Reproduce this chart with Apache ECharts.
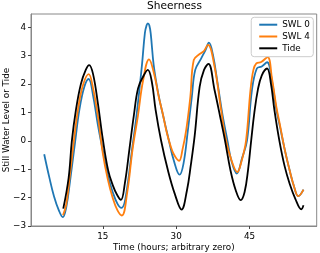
<!DOCTYPE html>
<html><head><meta charset="utf-8">
<script src="https://cdn.jsdelivr.net/npm/echarts@6/dist/echarts.min.js"></script>
<style>html,body{margin:0;padding:0;background:#fff}#c{width:320px;height:253px}</style>
</head><body><div id="c"></div>
<script>
const chartTitle = 'Sheerness';
const seriesNames = ['SWL 0', 'SWL 4', 'Tide'];
const xTicks = [15, 30, 45];
const yTicks = [-3, -2, -1, 0, 1, 2, 3, 4];

const swl0Hours = [3, 4, 5, 6, 6.8, 7.5, 8.3, 9.35, 10.2, 11.2, 12.1, 13, 14, 15, 16, 17, 18, 18.8, 19.6, 21.0, 21.9, 23.0, 23.6, 23.95, 24.2, 24.5, 24.8, 25.4, 26.3, 27.3, 28.5, 29.5, 30.7, 31.5, 32.4, 33.2, 33.9, 35.1, 36.0, 36.7, 37.5, 38.5, 39.5, 40.5, 41.3, 42.4, 43.5, 44.5, 45.5, 46.5, 47.5, 48.6, 49.6, 50.5, 51.3, 52.2, 53.2, 54.1, 55.0, 56.05];
const swl0Values = [-0.47, -1.25, -1.95, -2.45, -2.69, -2.35, -1.4, 0.0, 1.1, 1.9, 2.18, 1.6, 0.55, -0.35, -1.2, -1.8, -2.22, -2.36, -2.05, -0.27, 0.91, 2.67, 3.8, 4.07, 4.14, 4.07, 3.77, 2.67, 1.7, 0.91, 0.02, -0.68, -1.19, -0.8, 0.38, 1.55, 2.5, 2.9, 3.2, 3.46, 3.05, 2.0, 0.9, 0.0, -0.7, -1.15, -0.6, 0.02, 1.79, 2.55, 2.62, 2.77, 2.1, 1.1, 0.45, -0.3, -1.03, -1.6, -1.95, -1.72];

const swl4Hours = [6.85, 7.5, 8.3, 9.07, 10, 11, 12.1, 13, 14.1, 15, 16, 17, 18, 18.9, 20, 21.1, 22.2, 23.2, 24.45, 25.5, 26.5, 27.2, 28.0, 28.8, 29.6, 30.6, 31.3, 32.05, 32.9, 33.6, 34.8, 35.6, 36.5, 37.85, 39.2, 40.2, 41.3, 42.5, 43.4, 44.3, 45.2, 45.8, 46.4, 47.4, 48.7, 49.6, 50.5, 51.3, 52.2, 53.2, 54.1, 55.0, 56.05];
const swl4Values = [-2.62, -2.25, -1.15, 0.0, 1.2, 2.0, 2.35, 1.85, 0.73, -0.45, -1.35, -2.0, -2.45, -2.63, -1.8, -0.27, 0.91, 2.1, 2.87, 2.35, 1.5, 1.0, 0.35, -0.15, -0.5, -0.7, -0.3, 0.38, 1.55, 2.85, 3.06, 3.15, 3.38, 2.61, 1.08, 0.02, -0.68, -1.1, -0.7, 0.02, 1.79, 2.5, 2.73, 2.78, 2.95, 2.2, 1.2, 0.5, -0.3, -1.03, -1.6, -1.95, -1.72];

const tideHours = [6.9, 8, 8.66, 9.5, 10.5, 11.5, 12.2, 13, 14, 15, 16.1, 17, 17.9, 18.7, 19.5, 20.45, 21.35, 22.2, 23.2, 24.2, 25.0, 25.8, 26.9, 28.3, 29.7, 31.1, 32.2, 33.0, 33.8, 34.8, 35.7, 36.6, 37.85, 39.0, 40.0, 41.1, 42.2, 43.2, 44.0, 44.7, 45.35, 46.0, 46.7, 47.5, 48.6, 49.4, 50.1, 51.1, 52.2, 53.2, 54.4, 55.6, 56.05];
const tideValues = [-2.39, -1.3, 0.0, 1.1, 2.0, 2.5, 2.67, 2.35, 1.3, 0.05, -1.05, -1.55, -1.9, -2.08, -1.5, -0.27, 0.91, 1.85, 2.25, 2.5, 2.1, 1.08, 0.02, -1.03, -1.86, -2.42, -1.75, -0.85, 0.2, 1.9, 2.5, 2.71, 1.79, 0.85, 0.0, -1.03, -1.75, -2.09, -1.8, -1.03, 0.02, 1.0, 1.79, 2.3, 2.55, 2.0, 1.08, 0.02, -0.9, -1.5, -2.05, -2.41, -2.27];

const colors = ['#1f77b4', '#ff7f0e', '#000000'];
const pair = (h, v) => h.map((t, i) => [t, v[i]]);
const fmt = v => String(v).replace('-', '\u2212');
const font = 'DejaVu Sans';

const chart = echarts.init(document.getElementById('c'), null, {renderer: 'canvas'});
const mk = (name, h, v, c) => ({
  name, type: 'line', data: pair(h, v), showSymbol: false, smooth: 0.4,
  lineStyle: {color: c, width: 1.8}, itemStyle: {color: c}
});
chart.setOption({
  animation: false,
  title: {text: chartTitle, left: 147, top: 0.5, padding: 0,
    textStyle: {fontFamily: font, fontSize: 10.6, fontWeight: 'normal', color: '#000'}},
  legend: {orient: 'vertical', right: 6.7, top: 17.3, padding: [1.5, 3.5, 2.5, 8],
    itemWidth: 18, itemHeight: 2, itemGap: 0, icon: 'rect',
    backgroundColor: 'rgba(255,255,255,0.8)', borderColor: '#ccc', borderWidth: 1, borderRadius: 3,
    textStyle: {fontFamily: font, fontSize: 8.8, color: '#000', lineHeight: 11.8},
    data: seriesNames},
  grid: {left: 31, right: 3.3, top: 14, bottom: 27, show: true, borderColor: '#888', borderWidth: 1,
    containLabel: false, outerBoundsMode: 'none'},
  xAxis: {type: 'value', min: 0.3, max: 58.75,
    name: 'Time (hours; arbitrary zero)', nameLocation: 'middle', nameGap: 17, nameMoveOverlap: false,
    nameTextStyle: {fontFamily: font, fontSize: 8.8, color: '#000'},
    axisLine: {show: true, onZero: false, lineStyle: {color: '#888'}},
    axisTick: {show: true, length: 3, customValues: xTicks, lineStyle: {color: '#444'}},
    axisLabel: {customValues: xTicks, fontFamily: font, fontSize: 8.8, color: '#000', margin: 6, formatter: fmt},
    splitLine: {show: false}},
  yAxis: {type: 'value', min: -3, max: 4.47,
    name: 'Still Water Level or Tide', nameLocation: 'middle', nameGap: 20, nameMoveOverlap: false,
    nameTextStyle: {fontFamily: font, fontSize: 8.8, color: '#000'},
    axisLine: {show: true, onZero: false, lineStyle: {color: '#888'}},
    axisTick: {show: true, length: 3, customValues: yTicks, lineStyle: {color: '#444'}},
    axisLabel: {customValues: yTicks, fontFamily: font, fontSize: 8.8, color: '#000', margin: 5, formatter: fmt},
    splitLine: {show: false}},
  series: [
    mk(seriesNames[0], swl0Hours, swl0Values, colors[0]),
    mk(seriesNames[1], swl4Hours, swl4Values, colors[1]),
    mk(seriesNames[2], tideHours, tideValues, colors[2])
  ]
});
</script></body></html>
